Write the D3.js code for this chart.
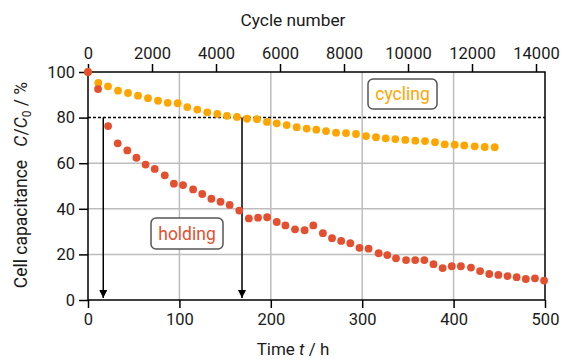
<!DOCTYPE html>
<html>
<head>
<meta charset="utf-8">
<script src="https://cdn.jsdelivr.net/npm/d3@7"></script>
<style>
	body { margin: 0; background: #fff; }
	text { font-family: Roboto, "Noto Sans", sans-serif; }
</style>
</head>
<body>
<svg id="chart" width="565" height="360"></svg>
<script>
// holding test: time in hours vs capacitance in %
var holdTime = [0, 11, 22, 32.5, 43, 53, 63, 73, 84, 94, 104, 115, 125, 135, 145, 155, 165.5, 176, 186, 196,
	206.5, 216, 226.5, 237, 246.5, 257, 267, 277, 287, 297, 307, 318, 327.5, 337, 348, 358, 368, 378, 388, 398,
	408, 419, 429, 439, 449, 459, 469, 479, 489, 499];
var holdValue = [100, 92.5, 76.3, 68.7, 65.6, 62.4, 59.4, 57.5, 54.7, 51, 50.4, 48.5, 46.5, 44.4, 43.1, 41.7, 39.2, 35.8, 36.1, 36.3,
	34.2, 32.7, 31.0, 30.6, 32.7, 29.3, 27.1, 25.9, 24.9, 22.9, 22.5, 20.5, 19.7, 18.3, 17.5, 17.5, 17.5, 15.7, 14.0, 14.8,
	14.8, 14.2, 12.7, 11.4, 11.0, 10.5, 10.0, 9.2, 9.5, 8.5];

// cycling test: cycle number vs capacitance in %
var cycleNumber = [0, 322, 625, 938, 1250, 1563, 1875, 2188, 2491, 2803, 3103, 3416, 3728, 4041, 4344, 4656, 4969, 5281, 5594, 5897,
	6209, 6522, 6834, 7134, 7438, 7750, 8063, 8375, 8688, 9000, 9303, 9603, 9916, 10228, 10531, 10844, 11147, 11459, 11759, 12084,
	12397, 12709];
var cycleValue = [100, 95.2, 93.7, 91.8, 90.8, 89.6, 88.5, 87.4, 86.5, 86.3, 84.6, 83.5, 82.3, 81.6, 80.8, 80.3, 79.5, 79.3, 78.1, 77.5,
	76.7, 75.8, 75.2, 74.7, 74.1, 73.4, 73.2, 72.8, 71.9, 71.4, 70.9, 70.6, 70.2, 69.9, 69.7, 69.2, 68.3, 68.1, 67.8, 67.4,
	67.1, 67.0];

var timeTicks = [0, 100, 200, 300, 400, 500];
var cycleTicks = [0, 2000, 4000, 6000, 8000, 10000, 12000, 14000];
var valueTicks = [0, 20, 40, 60, 80, 100];
var gridTime = [100, 200, 300, 400];
var gridValue = [20, 40, 60];
var limitValue = 80;
var arrowTimes = [16.7, 168.5];

var orange = "#FFA500", red = "#E4502F";

var svg = d3.select("#chart");
var margin = {left: 88, right: 20, top: 72, bottom: 60};
var W = 565, H = 360;

var x = d3.scaleLinear().domain([0, 500]).range([margin.left, W - margin.right]);
var xc = d3.scaleLinear().domain([0, 14000]).range([margin.left, 536]);
var y = d3.scaleLinear().domain([0, 100]).range([H - margin.bottom, margin.top]);

// grid
svg.append("g").selectAll("line").data(gridTime).enter().append("line")
	.attr("x1", function(d) { return x(d); }).attr("x2", function(d) { return x(d); })
	.attr("y1", y(0)).attr("y2", y(100))
	.attr("stroke", "#bdbdbd").attr("stroke-width", 1.5);
svg.append("g").selectAll("line").data(gridValue).enter().append("line")
	.attr("x1", x(0)).attr("x2", x(500))
	.attr("y1", function(d) { return y(d); }).attr("y2", function(d) { return y(d); })
	.attr("stroke", "#bdbdbd").attr("stroke-width", 1.5);

// 80 % limit
svg.append("line")
	.attr("x1", x(0)).attr("x2", x(500))
	.attr("y1", y(limitValue)).attr("y2", y(limitValue))
	.attr("stroke", "#000").attr("stroke-width", 1.5).attr("stroke-dasharray", "3,2");

// arrows
svg.append("defs").append("marker")
	.attr("id", "head").attr("viewBox", "0 0 10 10").attr("refX", 10).attr("refY", 5)
	.attr("markerWidth", 8).attr("markerHeight", 8).attr("markerUnits", "userSpaceOnUse")
	.attr("orient", "auto")
	.append("path").attr("d", "M0,0L10,5L0,10Z").attr("fill", "#000");
svg.append("g").selectAll("line").data(arrowTimes).enter().append("line")
	.attr("x1", function(d) { return x(d); }).attr("x2", function(d) { return x(d); })
	.attr("y1", y(limitValue)).attr("y2", y(0) - 2)
	.attr("stroke", "#000").attr("stroke-width", 1.5)
	.attr("marker-end", "url(#head)");

// axes
var fmt = d3.format("d");
var axBottom = svg.append("g").attr("transform", "translate(0," + y(0) + ")")
	.call(d3.axisBottom(x).tickValues(timeTicks).tickFormat(fmt).tickSize(8).tickSizeOuter(0).tickPadding(5));
var axTop = svg.append("g").attr("transform", "translate(0," + y(100) + ")")
	.call(d3.axisTop(xc).tickValues(cycleTicks).tickFormat(fmt).tickSize(8).tickSizeOuter(0).tickPadding(5));
var axLeft = svg.append("g").attr("transform", "translate(" + x(0) + ",0)")
	.call(d3.axisLeft(y).tickValues(valueTicks).tickFormat(fmt).tickSize(9).tickSizeOuter(0).tickPadding(4));
[axBottom, axTop, axLeft].forEach(function(a)
{
	a.select(".domain").remove();
	a.selectAll(".tick line").attr("stroke", "#000").attr("stroke-width", 1.5);
	a.selectAll(".tick text").attr("font-size", "16.5px").attr("fill", "#1a1a1a")
		.style("font-family", "Roboto, sans-serif");
});

// frame
svg.append("rect")
	.attr("x", x(0)).attr("y", y(100))
	.attr("width", x(500) - x(0)).attr("height", y(0) - y(100))
	.attr("fill", "none").attr("stroke", "#000").attr("stroke-width", 1.5);

// data
svg.append("g").selectAll("circle").data(cycleNumber).enter().append("circle")
	.attr("cx", function(d) { return xc(d); })
	.attr("cy", function(d, i) { return y(cycleValue[i]); })
	.attr("r", 3.9).attr("fill", orange);
svg.append("g").selectAll("circle").data(holdTime).enter().append("circle")
	.attr("cx", function(d) { return x(d); })
	.attr("cy", function(d, i) { return y(holdValue[i]); })
	.attr("r", 3.9).attr("fill", red);

// labels in boxes
function boxLabel(cx, cy, w, h, txt, color)
{
	svg.append("rect")
		.attr("x", cx - w / 2).attr("y", cy - h / 2).attr("width", w).attr("height", h)
		.attr("rx", 5).attr("fill", "#fff").attr("stroke", "#555").attr("stroke-width", 1.5);
	svg.append("text").attr("x", cx).attr("y", cy + 6).attr("text-anchor", "middle")
		.attr("font-size", "17.5px").attr("fill", color).text(txt);
}
boxLabel(402.5, 94, 69, 30, "cycling", orange);
boxLabel(187, 233.5, 72, 31, "holding", red);

// axis titles
svg.append("text").attr("x", 293).attr("y", 26).attr("text-anchor", "middle")
	.attr("font-size", "17.3px").attr("fill", "#1a1a1a").text("Cycle number");

var tb = svg.append("text").attr("x", 293).attr("y", 355).attr("text-anchor", "middle")
	.attr("font-size", "17px").attr("fill", "#1a1a1a");
tb.append("tspan").text("Time ");
tb.append("tspan").attr("font-style", "italic").text("t");
tb.append("tspan").text(" / h");

var tl = svg.append("text").attr("transform", "translate(27,185) rotate(-90)")
	.attr("text-anchor", "middle").attr("font-size", "17.5px").attr("fill", "#1a1a1a");
tl.append("tspan").text("Cell capacitance\u2002 ");
tl.append("tspan").attr("font-style", "italic").text("C");
tl.append("tspan").text("/");
tl.append("tspan").attr("font-style", "italic").text("C");
tl.append("tspan").attr("font-size", "12px").attr("dy", 4).text("0");
tl.append("tspan").attr("dy", -4).text(" / %");
</script>
</body>
</html>
